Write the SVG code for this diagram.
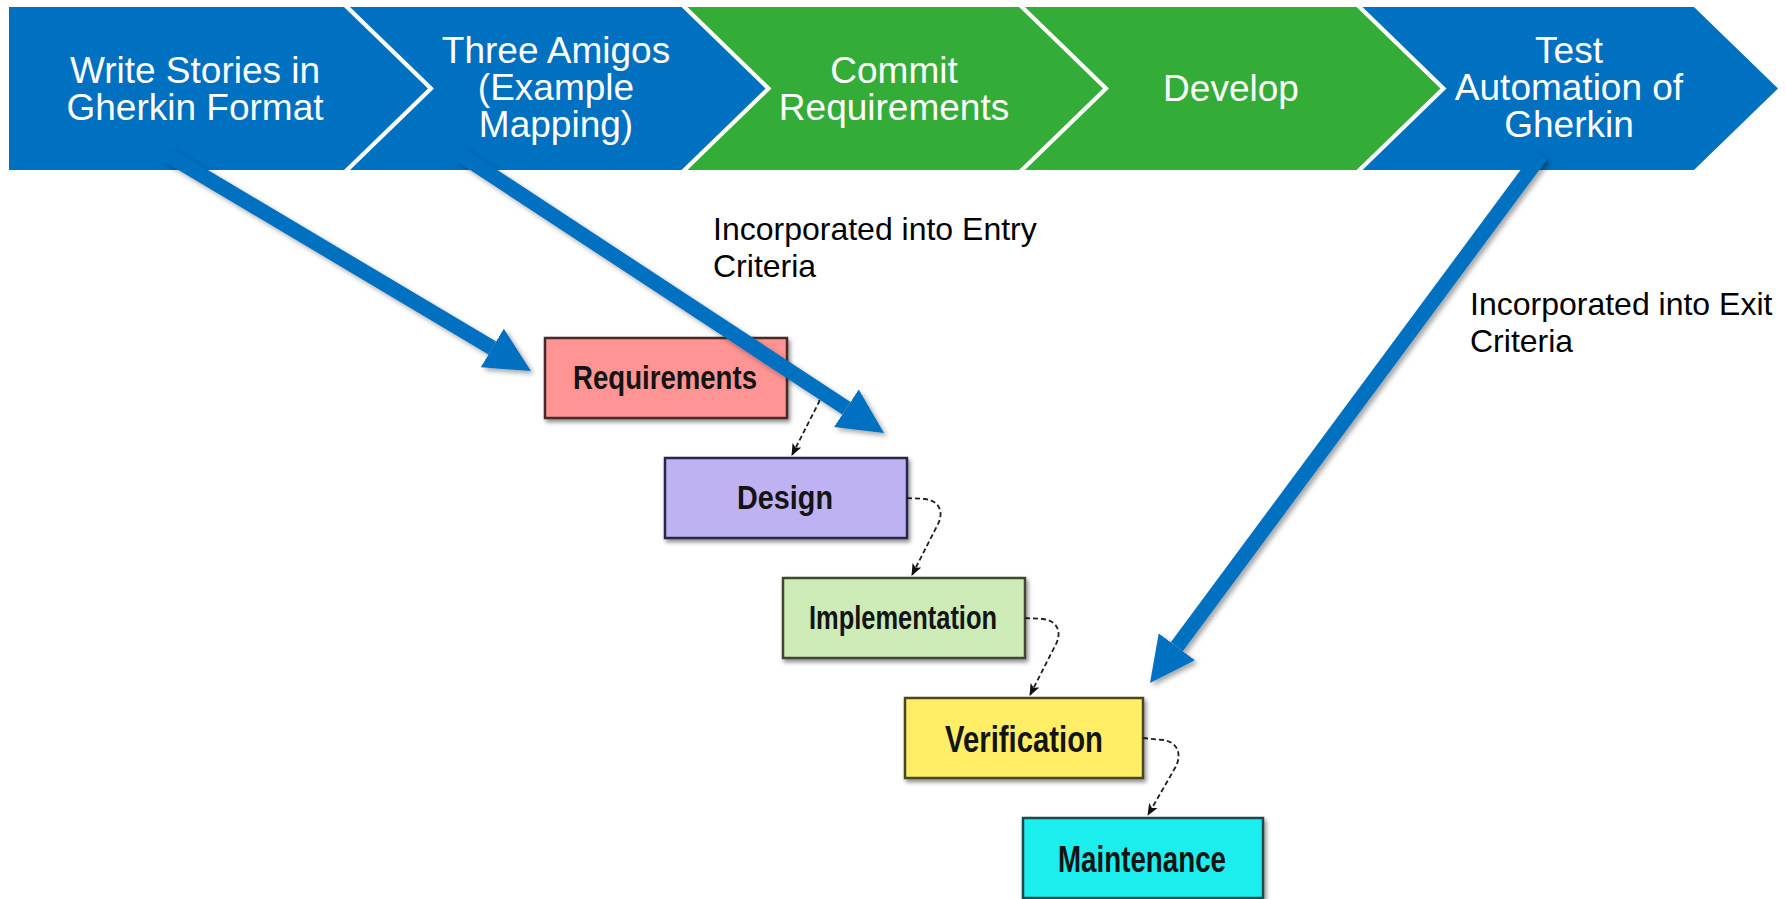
<svg xmlns="http://www.w3.org/2000/svg" width="1786" height="899" viewBox="0 0 1786 899">
  <defs>
    <style>
      .chev-blue { fill: #0070C0; }
      .chev-green { fill: #33AD37; }
      .chev-text { font-family: "Liberation Sans", Arial, sans-serif; font-size: 37px; fill: #ffffff; text-anchor: middle; }
      .note { font-family: "Liberation Sans", Arial, sans-serif; font-size: 32px; fill: #000000; }
      .stage rect { stroke-width: 2.5; }
      .stage text { font-family: "Liberation Sans", Arial, sans-serif; font-weight: bold; fill: #141414; text-anchor: middle; }
      .flow { fill: none; stroke: #1e1e1e; stroke-width: 1.8; stroke-dasharray: 5 3; marker-end: url(#small-head); }
      .big { fill: none; stroke: #0070C0; stroke-width: 15; stroke-linecap: butt; marker-end: url(#big-head); }
    </style>
    <marker id="small-head" viewBox="0 0 12 10" markerUnits="userSpaceOnUse" markerWidth="12" markerHeight="10" refX="11" refY="5" orient="auto">
      <path d="M0,0 L12,5 L0,10 L3,5 Z" fill="#111111"/>
    </marker>
    <marker id="big-head" viewBox="0 0 3 3" markerUnits="strokeWidth" markerWidth="3" markerHeight="3" refX="0" refY="1.5" orient="auto">
      <path d="M0,0 L3,1.5 L0,3 Z" fill="#0070C0"/>
    </marker>
    <filter id="arrow-shadow" x="-20%" y="-20%" width="140%" height="140%">
      <feDropShadow dx="3" dy="3" stdDeviation="2.5" flood-color="#000000" flood-opacity="0.35"/>
    </filter>
    <filter id="box-shadow" x="-10%" y="-20%" width="125%" height="150%">
      <feDropShadow dx="2" dy="3" stdDeviation="2" flood-color="#000000" flood-opacity="0.45"/>
    </filter>
  </defs>

  <rect x="0" y="0" width="1786" height="899" fill="#ffffff"/>

  <!-- process band -->
  <g id="step-write-stories">
    <path class="chev-blue" d="M9,7 L344,7 L428,88.5 L344,170 L9,170 Z"/>
    <text class="chev-text" x="195" y="83">Write Stories in</text>
    <text class="chev-text" x="195" y="120">Gherkin Format</text>
  </g>
  <g id="step-three-amigos">
    <path class="chev-blue" d="M350,7 L681.5,7 L765.5,88.5 L681.5,170 L350,170 L434,88.5 Z"/>
    <text class="chev-text" x="556" y="63">Three Amigos</text>
    <text class="chev-text" x="556" y="100">(Example</text>
    <text class="chev-text" x="556" y="137">Mapping)</text>
  </g>
  <g id="step-commit">
    <path class="chev-green" d="M687.5,7 L1019,7 L1103,88.5 L1019,170 L687.5,170 L771.5,88.5 Z"/>
    <text class="chev-text" x="894" y="83">Commit</text>
    <text class="chev-text" x="894" y="120">Requirements</text>
  </g>
  <g id="step-develop">
    <path class="chev-green" d="M1025,7 L1356.5,7 L1440.5,88.5 L1356.5,170 L1025,170 L1109,88.5 Z"/>
    <text class="chev-text" x="1231" y="101">Develop</text>
  </g>
  <g id="step-test-automation">
    <path class="chev-blue" d="M1362.5,7 L1694,7 L1778,88.5 L1694,170 L1362.5,170 L1446.5,88.5 Z"/>
    <text class="chev-text" x="1569" y="63">Test</text>
    <text class="chev-text" x="1569" y="100">Automation of</text>
    <text class="chev-text" x="1569" y="137">Gherkin</text>
  </g>

  <!-- waterfall stages -->
  <g id="stage-requirements" class="stage">
    <rect x="545" y="338" width="242" height="80" fill="#FF9494" stroke="#4A2A2A" filter="url(#box-shadow)"/>
    <text x="665" y="389" font-size="34" textLength="184" lengthAdjust="spacingAndGlyphs">Requirements</text>
  </g>
  <g id="stage-design" class="stage">
    <rect x="665" y="458" width="242" height="80" fill="#BFB2F2" stroke="#2A2846" filter="url(#box-shadow)"/>
    <text x="785" y="509" font-size="34" textLength="96" lengthAdjust="spacingAndGlyphs">Design</text>
  </g>
  <g id="stage-implementation" class="stage">
    <rect x="783" y="578" width="242" height="80" fill="#CCEBB6" stroke="#3C4632" filter="url(#box-shadow)"/>
    <text x="903" y="629" font-size="34" textLength="188" lengthAdjust="spacingAndGlyphs">Implementation</text>
  </g>
  <g id="stage-verification" class="stage">
    <rect x="905" y="698" width="238" height="80" fill="#FFEE66" stroke="#4A4620" filter="url(#box-shadow)"/>
    <text x="1024" y="752" font-size="37" textLength="158" lengthAdjust="spacingAndGlyphs">Verification</text>
  </g>
  <g id="stage-maintenance" class="stage">
    <rect x="1023" y="818" width="240" height="80" fill="#1EEEEE" stroke="#1F4A4A" filter="url(#box-shadow)"/>
    <text x="1142" y="872" font-size="37" textLength="168" lengthAdjust="spacingAndGlyphs">Maintenance</text>
  </g>

  <!-- annotations -->
  <g id="note-entry">
    <text class="note" x="713" y="240">Incorporated into Entry</text>
    <text class="note" x="713" y="277">Criteria</text>
  </g>
  <g id="note-exit">
    <text class="note" x="1470" y="315">Incorporated into Exit</text>
    <text class="note" x="1470" y="352">Criteria</text>
  </g>

  <!-- connectors -->
  <g id="connectors">
    <path class="flow" d="M787,378 L805,379 C821,381 824,394 817,406 L792,455"/>
    <path class="flow" d="M907,498 L925,499 C941,501 944,514 937,526 L912,575"/>
    <path class="flow" d="M1025,618 L1043,619 C1059,621 1062,634 1055,646 L1030,695"/>
    <path class="flow" d="M1143,738 L1163,740 C1179,742 1182,756 1175,768 L1148,815"/>

    <g filter="url(#arrow-shadow)">
      <line class="big" x1="168" y1="155" x2="492.3" y2="348"/>
      <line class="big" x1="461" y1="155" x2="846.4" y2="408.3"/>
      <line class="big" x1="1541" y1="155" x2="1176.8" y2="646.8"/>
    </g>
  </g>
</svg>
